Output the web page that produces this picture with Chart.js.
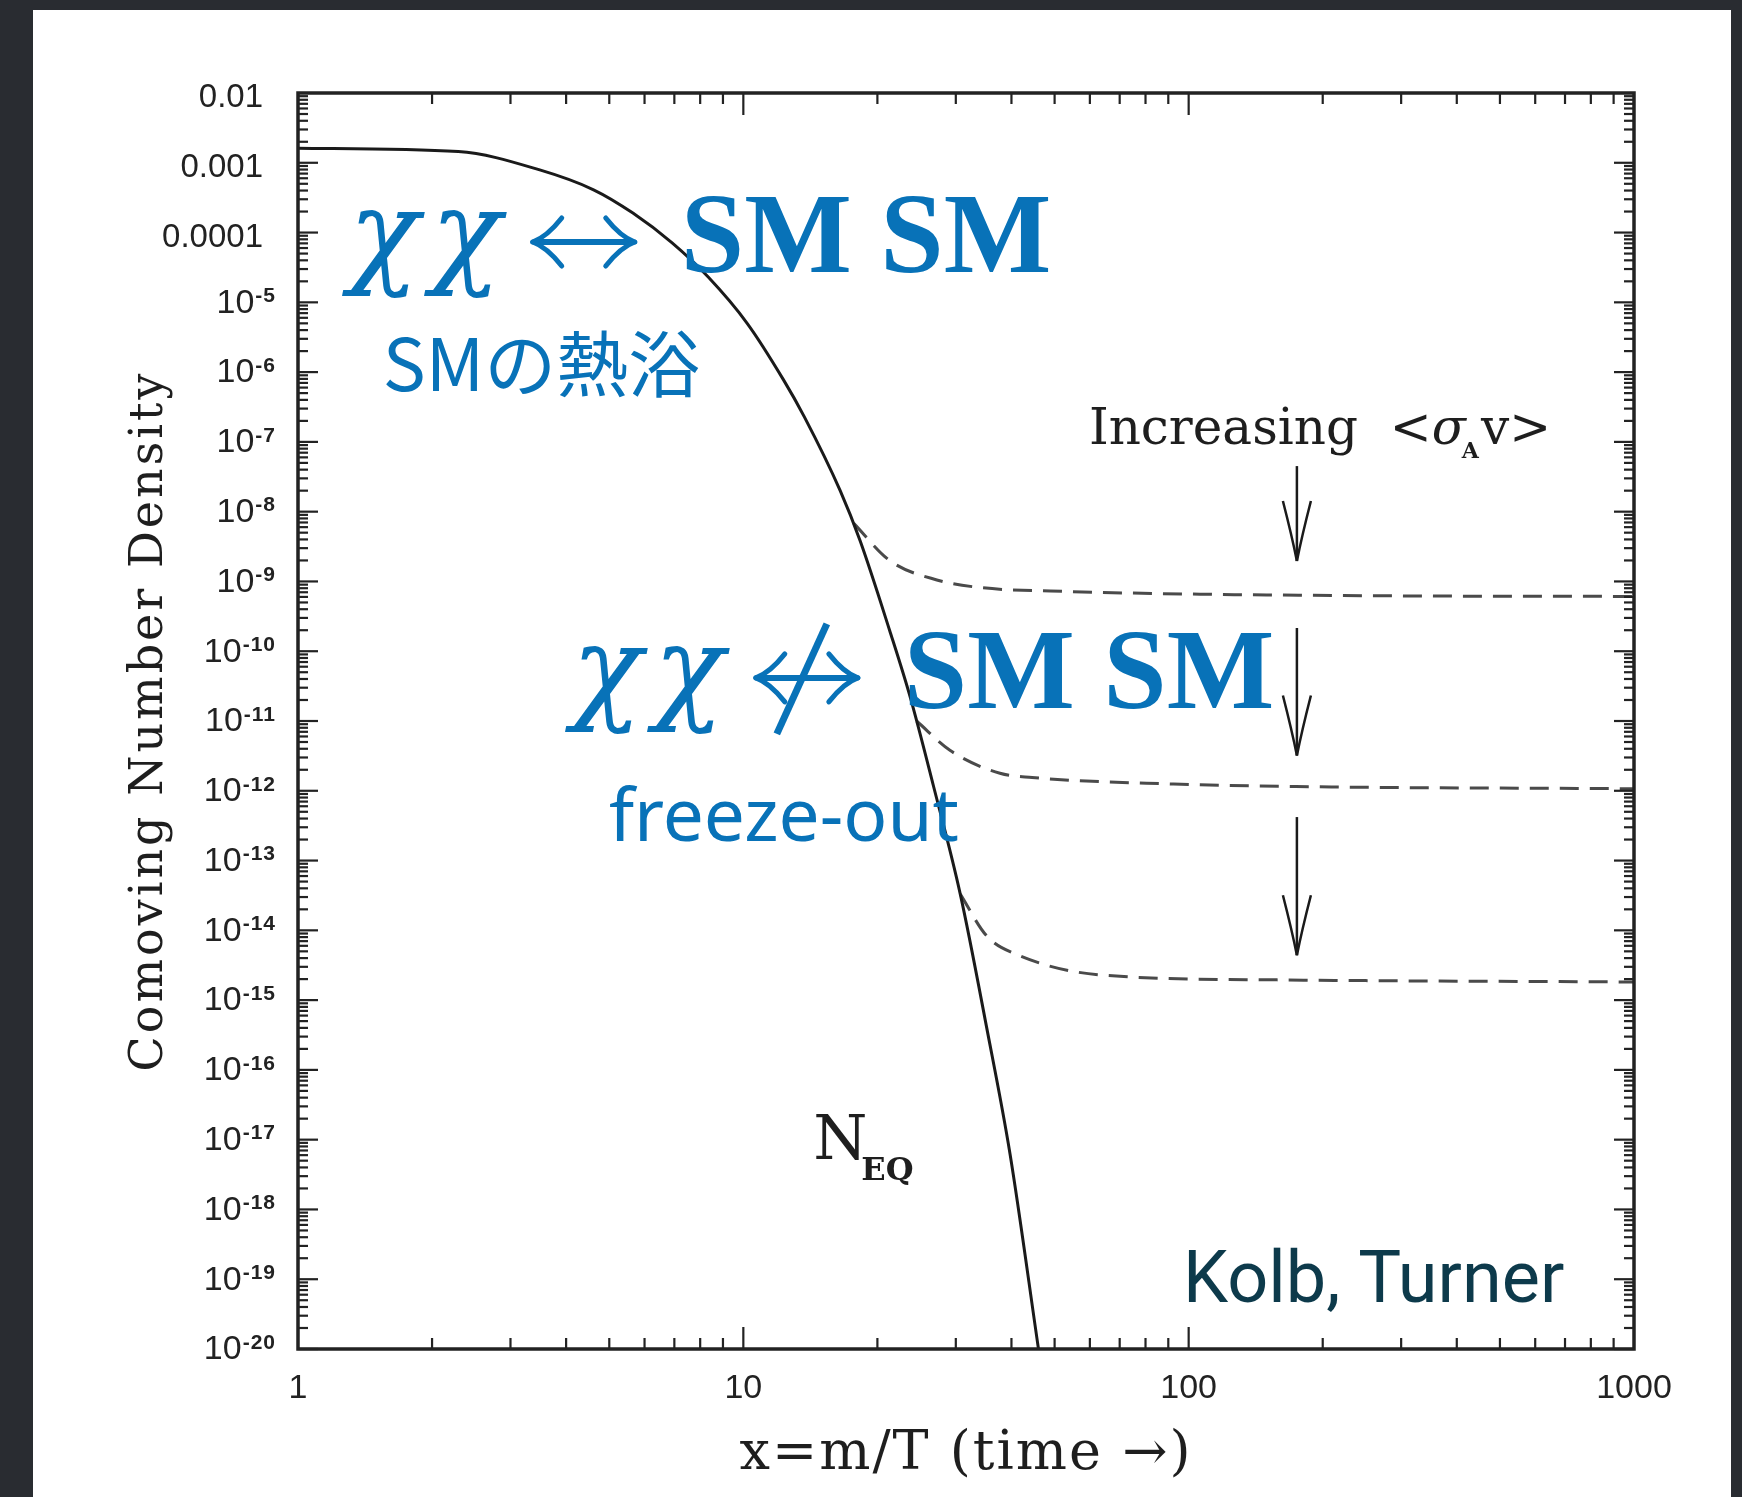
<!DOCTYPE html>
<html>
<head>
<meta charset="utf-8">
<title>Comoving number density</title>
<script src="https://cdn.jsdelivr.net/npm/chart.js@4.4.1/dist/chart.umd.min.js"></script>
<style>
  html, body { margin: 0; padding: 0; background: #292c31; overflow: hidden; }
  #panel { position: absolute; left: 33px; top: 10px; width: 1698px; height: 1487px; background: #fff; }
  #wrap { position: absolute; left: 0; top: 0; width: 1742px; height: 1497px; }
</style>
</head>
<body>
<div id="panel"></div>
<div id="wrap"><canvas id="myChart" width="1742" height="1497"></canvas></div>
<script>
// equilibrium abundance N_EQ (solid)
const neqX = [1, 2.29, 3.49, 4.61, 5.65, 6.92, 8.34, 10.2, 12.3, 13.7, 16.5, 18.3, 21.3, 23.7, 26.7, 30.7, 35.2, 39.7, 46.0];
const neqY = [1.62e-3, 1.45e-3, 7.9e-4, 4.1e-4, 1.9e-4, 7.1e-5, 2.3e-5, 5.0e-6, 7.8e-7, 2.3e-7, 2.0e-8, 3.8e-9, 2.0e-10, 2.2e-11, 1.2e-12, 3.3e-14, 4.0e-16, 6.3e-18, 1.0e-20];

// relic curves for three cross sections (dashed)
const fo1X = [17.7, 21.3, 27.2, 34.5, 48.9, 100, 316, 1000];
const fo1Y = [6.8e-9, 2.0e-9, 1.05e-9, 8.1e-10, 7.3e-10, 6.6e-10, 6.2e-10, 6.1e-10];
const fo2X = [24.5, 29.1, 37.7, 44.5, 92.5, 174, 1000];
const fo2Y = [1.0e-11, 3.8e-12, 1.78e-12, 1.55e-12, 1.25e-12, 1.15e-12, 1.07e-12];
const fo3X = [30.7, 35.2, 41.1, 63.2, 158, 1000];
const fo3Y = [3.3e-14, 8.3e-15, 4.5e-15, 2.3e-15, 1.95e-15, 1.82e-15];

// axis labels
const xTickValues = [1, 10, 100, 1000];
const xTickLabels = ['1', '10', '100', '1000'];
const yTickValues = [1e-2, 1e-3, 1e-4, 1e-5, 1e-6, 1e-7, 1e-8, 1e-9, 1e-10, 1e-11, 1e-12, 1e-13, 1e-14, 1e-15, 1e-16, 1e-17, 1e-18, 1e-19, 1e-20];
const yTickLabels = ['0.01', '0.001', '0.0001', '10^-5', '10^-6', '10^-7', '10^-8', '10^-9', '10^-10', '10^-11', '10^-12', '10^-13', '10^-14', '10^-15', '10^-16', '10^-17', '10^-18', '10^-19', '10^-20'];
const xTitle = 'x=m/T (time →)';
const yTitle = 'Comoving Number Density';

// annotations, anchored in data units
const reactions = [
  { x: 1.30, y: 2.72e-5, blocked: false },
  { x: 4.12, y: 1.54e-11, blocked: true }
];
const arrowX = 175;
const arrowTops = [4.5e-8, 2.15e-10, 4.2e-13];
const arrowTips = [1.96e-9, 3.2e-12, 4.4e-15];

const BLUE = '#0872b8';
const SANS = '"Liberation Sans", Arial, sans-serif';
const SERIF = '"DejaVu Serif", serif';

function pts(xs, ys) {
  return xs.map((x, i) => ({ x: x, y: ys[i] }));
}

function line(ctx, x1, y1, x2, y2) {
  ctx.beginPath();
  ctx.moveTo(x1, y1);
  ctx.lineTo(x2, y2);
  ctx.stroke();
}

// ↔ drawn by hand so the barbs look like the math font ones
function doubleArrow(ctx, x1, x2, y, blocked) {
  ctx.save();
  ctx.strokeStyle = BLUE;
  ctx.lineCap = 'round';
  ctx.lineWidth = 6;
  line(ctx, x1 + 3, y, x2 - 3, y);
  ctx.lineWidth = 5;
  [[x1, 1], [x2, -1]].forEach(([tx, dir]) => {
    [-1, 1].forEach(s => {
      ctx.beginPath();
      ctx.moveTo(tx, y);
      ctx.quadraticCurveTo(tx + dir * 14, y + s * 5, tx + dir * 29, y + s * 24);
      ctx.stroke();
    });
  });
  if (blocked) {
    const cx = (x1 + x2) / 2;
    ctx.lineWidth = 7;
    ctx.lineCap = 'butt';
    line(ctx, cx + 20, y - 54, cx - 30, y + 56);
  }
  ctx.restore();
}

function downArrow(ctx, x, y1, y2) {
  ctx.save();
  ctx.strokeStyle = '#1a1a1a';
  ctx.lineWidth = 2.5;
  line(ctx, x, y1, x, y2);
  [-1, 1].forEach(s => {
    ctx.beginPath();
    ctx.moveTo(x + s * 14, y2 - 60);
    ctx.quadraticCurveTo(x + s * 5, y2 - 25, x, y2);
    ctx.stroke();
  });
  ctx.restore();
}

const paperPlugin = {
  id: 'paper',
  afterDatasetsDraw(chart) {
    const ctx = chart.ctx;
    const xs = chart.scales.x, ys = chart.scales.y;
    const { left, right, top, bottom } = chart.chartArea;
    const px = v => xs.getPixelForValue(v);
    const py = v => ys.getPixelForValue(v);
    ctx.save();

    // frame
    ctx.strokeStyle = '#222';
    ctx.lineWidth = 3.5;
    ctx.strokeRect(left, top, right - left, bottom - top);

    // inward ticks on all four sides
    ctx.lineWidth = 2.2;
    for (let d = 0; d < 3; d++) {
      for (let m = 1; m <= 9; m++) {
        const v = m * Math.pow(10, d);
        if (v <= 1) continue;
        const len = m === 1 ? 22 : 11;
        const x = px(v);
        line(ctx, x, bottom, x, bottom - len);
        line(ctx, x, top, x, top + len);
      }
    }
    for (let e = -20; e < -2; e++) {
      for (let m = 1; m <= 9; m++) {
        const v = m * Math.pow(10, e);
        const len = m === 1 ? 20 : 10;
        const y = py(v);
        line(ctx, left, y, left + len, y);
        line(ctx, right, y, right - len, y);
      }
    }

    // tick labels
    ctx.fillStyle = '#222';
    ctx.textBaseline = 'middle';
    ctx.font = '34px ' + SANS;
    ctx.textAlign = 'center';
    xTickValues.forEach((v, i) => ctx.fillText(xTickLabels[i], px(v), bottom + 40));
    yTickValues.forEach((v, i) => {
      const y = py(v);
      const lab = yTickLabels[i];
      if (lab.indexOf('^') < 0) {
        ctx.textAlign = 'right';
        ctx.font = '33px ' + SANS;
        ctx.fillText(lab, left - 35, y + 5);
        return;
      }
      const [base, exp] = lab.split('^');
      ctx.textAlign = 'left';
      ctx.letterSpacing = '1px';
      ctx.font = 'bold 21px ' + SANS;
      const we = ctx.measureText(exp).width;
      ctx.letterSpacing = '0px';
      ctx.font = '34px ' + SANS;
      const wb = ctx.measureText(base).width;
      const r = left - 22;
      ctx.fillText(base, r - we - wb - 1, y + 1);
      ctx.letterSpacing = '1px';
      ctx.font = 'bold 21px ' + SANS;
      ctx.fillText(exp, r - we, y - 6);
      ctx.letterSpacing = '0px';
    });

    // axis titles
    ctx.fillStyle = '#1e1e1e';
    ctx.textAlign = 'center';
    ctx.textBaseline = 'alphabetic';
    ctx.font = '54px ' + SERIF;
    ctx.letterSpacing = '2px';
    ctx.fillText(xTitle, (left + right) / 2, bottom + 120);
    ctx.save();
    ctx.translate(left - 148, (top + bottom) / 2);
    ctx.rotate(-Math.PI / 2);
    ctx.textBaseline = 'middle';
    ctx.font = '46px ' + SERIF;
    ctx.letterSpacing = '3px';
    ctx.fillText(yTitle, 0, 0);
    ctx.restore();
    ctx.letterSpacing = '0px';

    // "Increasing <σA v>" with arrows below
    ctx.textAlign = 'left';
    let tx = px(59.7);
    const ty = py(9.3e-8);
    ctx.font = '50px ' + SERIF;
    ctx.fillText('Increasing  <', tx, ty);
    tx += ctx.measureText('Increasing  <').width;
    ctx.font = 'italic 50px ' + SERIF;
    ctx.fillText('σ', tx, ty);
    tx += ctx.measureText('σ').width;
    ctx.font = 'bold 22px ' + SERIF;
    ctx.fillText('A', tx - 4, ty + 14);
    tx += ctx.measureText('A').width - 2;
    ctx.font = '50px ' + SERIF;
    ctx.fillText('v>', tx, ty);
    arrowTops.forEach((t, i) => downArrow(ctx, px(arrowX), py(t), py(arrowTips[i])));

    // N_EQ
    ctx.font = '62px ' + SERIF;
    ctx.fillText('N', px(14.35), py(5.3e-18));
    ctx.font = 'bold 32px ' + SERIF;
    ctx.fillText('EQ', px(18.4), py(2.6e-18));

    // reactions in blue
    reactions.forEach(r => {
      const x0 = px(r.x), y0 = py(r.y);
      ctx.fillStyle = BLUE;
      ctx.font = 'italic 116px ' + SERIF;
      ctx.fillText('χ', x0, y0);
      ctx.fillText('χ', x0 + 82, y0);
      doubleArrow(ctx, x0 + 184, x0 + 286, y0 - 30, r.blocked);
      ctx.font = 'bold 114px "Liberation Serif", serif';
      ctx.fillText('SM SM', x0 + 332, y0);
    });

    ctx.fillStyle = BLUE;
    ctx.font = '72px "Noto Sans CJK JP", sans-serif';
    ctx.fillText('SMの熱浴', px(1.55), py(5.4e-7));
    ctx.font = '73px "Noto Sans", sans-serif';
    ctx.fillText('freeze-out', px(4.99), py(1.9e-13));

    ctx.fillStyle = '#0d3a4b';
    ctx.font = '72px Roboto, sans-serif';
    ctx.fillText('Kolb, Turner', px(97.1), py(4.7e-20));

    ctx.restore();
  }
};

const curveStyle = {
  showLine: true,
  fill: false,
  pointRadius: 0,
  borderWidth: 3,
  cubicInterpolationMode: 'monotone'
};

const ctx = document.getElementById('myChart').getContext('2d');
const chart = new Chart(ctx, {
  type: 'scatter',
  data: {
    datasets: [
      Object.assign({ label: 'N_EQ', data: pts(neqX, neqY), borderColor: '#1a1a1a' }, curveStyle),
      Object.assign({ label: 'relic 1', data: pts(fo1X, fo1Y), borderColor: '#4a4a4a', borderDash: [19, 11] }, curveStyle),
      Object.assign({ label: 'relic 2', data: pts(fo2X, fo2Y), borderColor: '#4a4a4a', borderDash: [19, 11] }, curveStyle),
      Object.assign({ label: 'relic 3', data: pts(fo3X, fo3Y), borderColor: '#4a4a4a', borderDash: [19, 11] }, curveStyle)
    ]
  },
  options: {
    responsive: false,
    animation: false,
    devicePixelRatio: 1,
    layout: { padding: { left: 298, top: 93, right: 108, bottom: 148 } },
    scales: {
      x: { type: 'logarithmic', min: 1, max: 1000, display: false },
      y: { type: 'logarithmic', min: 1e-20, max: 1e-2, display: false }
    },
    plugins: { legend: { display: false }, tooltip: { enabled: false } }
  },
  plugins: [paperPlugin]
});
</script>
</body>
</html>
